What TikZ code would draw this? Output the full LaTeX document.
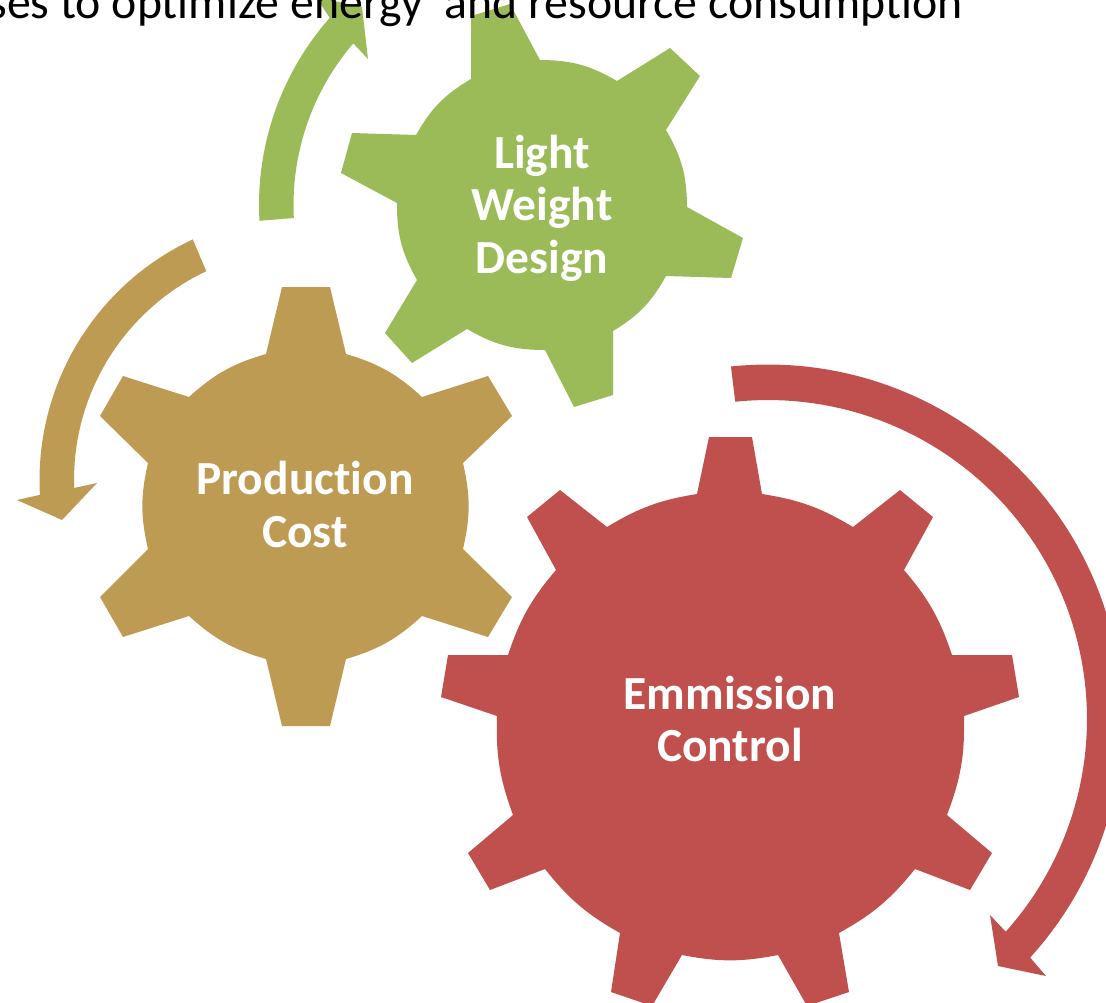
\documentclass[tikz,border=0pt]{standalone}
\usepackage{fontspec}
\setmainfont[Ligatures=NoCommon]{Carlito}
\definecolor{gearg}{HTML}{9BBB59}
\definecolor{gearb}{HTML}{BD9B53}
\definecolor{gearr}{HTML}{C0504D}
\tikzset{
  gearlabel/.style={text=white,font=\fontsize{47.5}{52.5}\selectfont\bfseries,align=center,inner sep=0pt},
  headline/.style={text=black,font=\fontsize{47.8}{56}\selectfont,inner sep=0pt,anchor=base east},
  valley/.style={bend left=#1},
}
\begin{document}
\begin{tikzpicture}[x=1pt,y=-1pt]
\useasboundingbox (0,0) rectangle (1106,1002);
\clip (0,0) rectangle (1106,1002);
% green gear
\fill[gearg] (471,79)--(471,16)--(510,4)--(540,60) to[valley=15] (617,81)--(670,48)--(700,76)--(666,130) to[valley=15] (687,207)--(743,238)--(731,278)--(666,276) to[valley=15] (613,331)--(613,395)--(574,407)--(545,350) to[valley=15] (467,329)--(412,363)--(385,333)--(417,280) to[valley=15] (397,203)--(341,173)--(352,133)--(416,135) to[valley=15] (471,79)--cycle;
% green arrow
\fill[gearg] plot[domain=183.2:138.6,samples=40] ({542+283*cos(\x)},{205-283*sin(\x)})
  -- (316,-3) -- (362,7) -- (368,59) -- (352,42)
  -- plot[domain=139.2:183,samples=40] ({542+248.5*cos(\x)},{205-248.5*sin(\x)}) -- cycle;
% brown gear
\fill[gearb] (266,354)--(282,287)--(330,287)--(346,354) to[valley=13] (422,397)--(488,376)--(512,416)--(463,463) to[valley=13] (463,549)--(512,597)--(488,637)--(422,616) to[valley=13] (346,659)--(330,726)--(282,726)--(266,659) to[valley=13] (189,616)--(123,637)--(100,597)--(148,549) to[valley=13] (148,463)--(100,416)--(123,376)--(189,397) to[valley=13] (266,354)--cycle;
% brown arrow
\fill[gearb] plot[domain=115:183.2,samples=40] ({305+265.5*cos(\x)},{480-265.5*sin(\x)})
  -- (17,500) -- (62,520) -- (97,483) -- (74,488)
  -- plot[domain=182:115.3,samples=40] ({305+231*cos(\x)},{480-231*sin(\x)}) -- cycle;
% red gear
\fill[gearr] (697,494)--(709,437)--(752,437)--(762,494) to[valley=11] (853,527)--(900,490)--(933,517)--(904,570) to[valley=11] (952,655)--(1012,655)--(1019,697)--(964,716) to[valley=11] (947,815)--(992,853)--(970,890)--(915,869) to[valley=11] (839,933)--(849,992)--(807,1006)--(778,955) to[valley=11] (682,955)--(652,1006)--(611,992)--(620,933) to[valley=11] (545,869)--(490,890)--(468,853)--(513,815) to[valley=11] (497,716)--(441,697)--(448,655)--(508,655) to[valley=11] (556,570)--(527,517)--(560,490)--(607,527) to[valley=11] (697,494)--cycle;
% red arrow
\fill[gearr] plot[domain=96:-42.3,samples=80] ({768+354.5*cos(\x)},{719-354.5*sin(\x)})
  -- (1046,976) -- (998,966) -- (990,915) -- (1006,932)
  -- plot[domain=-41.8:95.9,samples=80] ({768+319*cos(\x)},{719-319*sin(\x)}) -- cycle;
\node[headline] (head) at (963,18.5) {ses to optimize energy\ \ and resource consumption};
\node[gearlabel] (light) at (542,208) {Light\\Weight\\Design};
\node[gearlabel] (prod) at (305,504.5) {Production\\Cost};
\node[gearlabel] (emm) at (730,719) {Emmission\\Control};
\end{tikzpicture}
\end{document}
